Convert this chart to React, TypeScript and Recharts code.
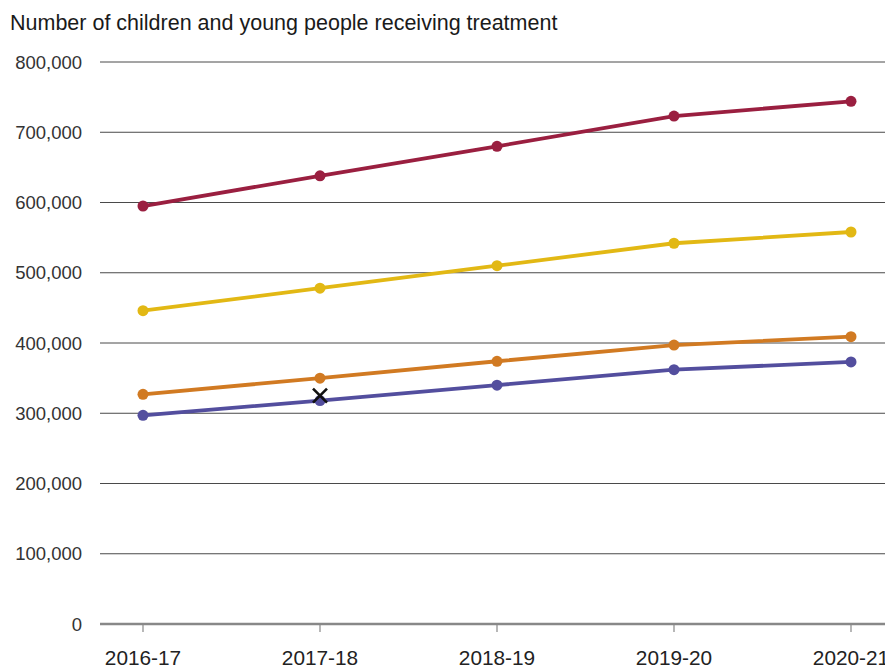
import { LineChart, Line, XAxis, YAxis, CartesianGrid } from "recharts";

// years on the x axis
const years = ["2016-17", "2017-18", "2018-19", "2019-20", "2020-21"];

// one array per line, top to bottom
const redSeries = [595000, 638000, 680000, 723000, 744000];
const yellowSeries = [446000, 478000, 510000, 542000, 558000];
const orangeSeries = [327000, 350000, 374000, 397000, 409000];
const blueSeries = [297000, 318000, 340000, 362000, 373000];

// the single cross marker (only 2017-18 has a value)
const crossMarker = [null, 325000, null, null, null];

const yTicks = [0, 100000, 200000, 300000, 400000, 500000, 600000, 700000, 800000];

const data = years.map((year, i) => ({
  year,
  red: redSeries[i],
  yellow: yellowSeries[i],
  orange: orangeSeries[i],
  blue: blueSeries[i],
  cross: crossMarker[i],
}));

const FONT = '"Liberation Sans", Arial, Helvetica, sans-serif';

const CrossDot = (props: any) => {
  const { cx, cy, value } = props;
  if (value == null || cx == null || cy == null) return null;
  const s = 7;
  return (
    <g key={`cross-${cx}`}>
      <line x1={cx - s} y1={cy - s} x2={cx + s} y2={cy + s} stroke="#111" strokeWidth={2.6} />
      <line x1={cx - s} y1={cy + s} x2={cx + s} y2={cy - s} stroke="#111" strokeWidth={2.6} />
    </g>
  );
};

export default function App() {
  return (
    <div style={{ position: "absolute", left: 0, top: 0, width: 885, height: 668, background: "#fff", fontFamily: FONT }}>
      <div
        style={{
          position: "absolute",
          left: 10,
          top: 13,
          fontSize: 21.5,
          lineHeight: "21px",
          color: "#1a1a1a",
          whiteSpace: "nowrap",
        }}
      >
        Number of children and young people receiving treatment
      </div>
      <LineChart width={885} height={668} data={data} margin={{ top: 62, right: 0, bottom: 0, left: 0 }}>
        <CartesianGrid vertical={false} stroke="#4a4a4a" strokeWidth={1} />
        <XAxis
          dataKey="year"
          padding={{ left: 43, right: 34 }}
          height={44}
          stroke="#888"
          axisLine={{ stroke: "#888", strokeWidth: 2.5 }}
          tickLine={{ stroke: "#888", strokeWidth: 1.2 }}
          tickSize={8}
          tickMargin={18}
          tick={{ fontSize: 20.8, fill: "#222", fontFamily: FONT }}
          interval={0}
        />
        <YAxis
          domain={[0, 800000]}
          ticks={yTicks}
          width={100}
          axisLine={false}
          tickLine={false}
          tickSize={0}
          tickMargin={18}
          tick={{ fontSize: 18.5, fill: "#333", fontFamily: FONT }}
          tickFormatter={(v: number) => v.toLocaleString("en-US")}
        />
        <Line dataKey="red" stroke="#9a1f40" strokeWidth={3.8} dot={{ r: 5.5, fill: "#9a1f40", stroke: "none" }} isAnimationActive={false} />
        <Line dataKey="yellow" stroke="#e2b814" strokeWidth={3.8} dot={{ r: 5.5, fill: "#e2b814", stroke: "none" }} isAnimationActive={false} />
        <Line dataKey="orange" stroke="#d17a22" strokeWidth={3.8} dot={{ r: 5.5, fill: "#d17a22", stroke: "none" }} isAnimationActive={false} />
        <Line dataKey="blue" stroke="#534e9e" strokeWidth={3.8} dot={{ r: 5.5, fill: "#534e9e", stroke: "none" }} isAnimationActive={false} />
        <Line dataKey="cross" stroke="none" dot={<CrossDot />} activeDot={false} isAnimationActive={false} />
      </LineChart>
    </div>
  );
}
